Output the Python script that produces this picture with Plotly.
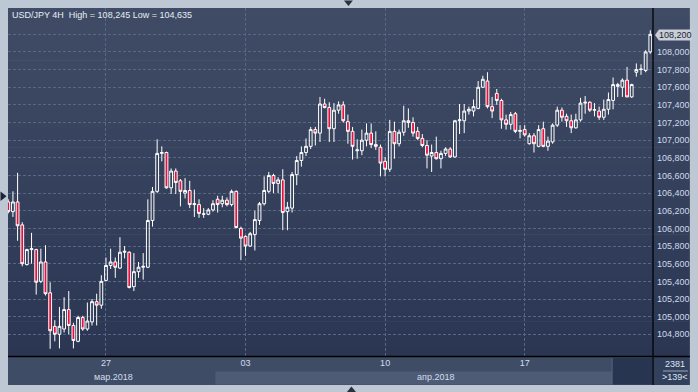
import plotly.graph_objects as go

# ---------------- data ----------------
opens = [106.30, 106.19, 106.30, 106.04, 105.59, 105.76, 105.76, 105.40, 105.62, 105.27,
         104.89, 104.80, 104.86, 105.08, 104.90, 104.72, 104.99, 104.86, 104.94, 105.17,
         105.13, 105.41, 105.58, 105.62, 105.55, 105.73, 105.73, 105.34, 105.51, 105.56,
         105.56, 106.09, 106.42, 106.85, 106.86, 106.46, 106.65, 106.54, 106.40, 106.43,
         106.27, 106.27, 106.16, 106.16, 106.21, 106.33, 106.28, 106.32, 106.27, 106.42,
         106.00, 105.91, 105.80, 105.93, 106.09, 106.28, 106.42, 106.60, 106.51, 106.55,
         106.19, 106.23, 106.61, 106.77, 106.86, 106.93, 107.12, 107.08, 107.41, 107.37,
         107.13, 107.34, 107.40, 107.21, 107.10, 106.88, 106.88, 107.00, 107.08, 106.95,
         106.92, 106.76, 106.67, 107.10, 106.96, 107.09, 107.22, 107.20, 107.10, 107.02,
         106.94, 106.82, 106.86, 106.79, 106.85, 106.90, 106.81, 107.22, 107.22, 107.33,
         107.33, 107.36, 107.60, 107.67, 107.38, 107.53, 107.45, 107.23, 107.18, 107.30,
         107.10, 107.12, 106.96, 107.05, 106.93, 107.13, 106.93, 106.98, 107.17, 107.34,
         107.27, 107.22, 107.14, 107.23, 107.42, 107.43, 107.34, 107.33, 107.26, 107.35,
         107.45, 107.63, 107.60, 107.68, 107.49, 107.77, 107.80, 107.79, 108.00]
highs = [106.33, 106.42, 106.63, 106.07, 105.77, 105.95, 105.77, 105.77, 105.81, 105.39,
         104.96, 105.11, 105.22, 105.29, 104.93, 105.01, 105.01, 105.16, 105.20, 105.26,
         105.47, 105.67, 105.77, 105.67, 105.90, 105.80, 105.74, 105.72, 105.62, 105.72,
         106.33, 106.47, 107.01, 106.93, 106.87, 106.68, 106.68, 106.56, 106.57, 106.54,
         106.44, 106.33, 106.23, 106.23, 106.32, 106.37, 106.37, 106.35, 106.44, 106.43,
         106.02, 105.92, 105.96, 106.20, 106.30, 106.59, 106.64, 106.62, 106.58, 106.67,
         106.30, 106.64, 106.82, 106.93, 107.02, 107.15, 107.15, 107.49, 107.47, 107.43,
         107.42, 107.44, 107.44, 107.29, 107.15, 107.01, 107.12, 107.19, 107.19, 107.10,
         106.95, 106.81, 107.23, 107.21, 107.12, 107.39, 107.36, 107.26, 107.15, 107.07,
         107.00, 106.95, 107.04, 106.88, 106.92, 106.92, 107.23, 107.41, 107.41, 107.38,
         107.46, 107.67, 107.73, 107.77, 107.49, 107.58, 107.47, 107.29, 107.32, 107.32,
         107.17, 107.17, 107.08, 107.08, 107.17, 107.21, 107.04, 107.19, 107.38, 107.37,
         107.30, 107.29, 107.30, 107.48, 107.50, 107.44, 107.42, 107.38, 107.46, 107.54,
         107.71, 107.65, 107.70, 107.83, 107.64, 107.87, 107.86, 108.02, 108.245]
lows = [106.17, 106.13, 105.86, 105.57, 105.58, 105.60, 105.25, 105.38, 105.24, 104.635,
        104.72, 104.64, 104.82, 104.80, 104.64, 104.71, 104.84, 104.84, 104.90, 104.90,
        105.09, 105.40, 105.54, 105.44, 105.54, 105.66, 105.32, 105.29, 105.44, 105.42,
        105.55, 106.02, 106.40, 106.76, 106.45, 106.39, 106.39, 106.25, 106.34, 106.23,
        106.13, 106.12, 106.12, 106.15, 106.19, 106.18, 106.24, 106.25, 106.25, 106.00,
        105.64, 105.69, 105.79, 105.75, 106.04, 106.26, 106.40, 106.40, 106.40, 105.98,
        105.98, 106.18, 106.49, 106.70, 106.82, 106.90, 106.94, 106.98, 107.36, 106.98,
        106.98, 107.30, 107.20, 106.96, 106.78, 106.79, 106.83, 106.93, 106.91, 106.89,
        106.59, 106.59, 106.64, 106.79, 106.93, 107.05, 107.14, 107.04, 107.00, 106.92,
        106.68, 106.64, 106.78, 106.68, 106.82, 106.80, 106.80, 107.07, 107.08, 107.29,
        107.27, 107.35, 107.59, 107.36, 107.25, 107.40, 107.13, 107.12, 107.12, 107.08,
        107.02, 107.04, 106.95, 106.86, 106.92, 106.92, 106.88, 106.96, 107.15, 107.21,
        107.15, 107.08, 107.13, 107.21, 107.30, 107.32, 107.27, 107.23, 107.23, 107.29,
        107.35, 107.49, 107.49, 107.49, 107.48, 107.72, 107.74, 107.77, 107.98]
closes = [106.19, 106.30, 106.03, 105.60, 105.76, 105.77, 105.39, 105.62, 105.26, 104.84,
          104.80, 104.89, 105.08, 104.90, 104.73, 104.99, 104.86, 104.95, 105.17, 105.13,
          105.40, 105.58, 105.62, 105.56, 105.73, 105.74, 105.33, 105.51, 105.56, 105.57,
          106.09, 106.42, 106.85, 106.86, 106.46, 106.65, 106.52, 106.42, 106.43, 106.27,
          106.28, 106.17, 106.165, 106.21, 106.28, 106.27, 106.32, 106.27, 106.42, 106.01,
          105.89, 105.80, 105.94, 106.10, 106.28, 106.43, 106.60, 106.51, 106.55, 106.18,
          106.24, 106.61, 106.77, 106.86, 106.93, 107.12, 107.08, 107.41, 107.37, 107.13,
          107.34, 107.40, 107.22, 107.10, 106.93, 106.89, 107.00, 107.08, 106.95, 106.93,
          106.74, 106.67, 107.10, 106.96, 107.09, 107.22, 107.20, 107.08, 107.02, 106.94,
          106.83, 106.86, 106.79, 106.85, 106.90, 106.81, 107.22, 107.23, 107.33, 107.35,
          107.38, 107.60, 107.69, 107.38, 107.33, 107.45, 107.23, 107.18, 107.29, 107.10,
          107.11, 107.06, 107.05, 106.96, 107.12, 106.93, 106.99, 107.17, 107.34, 107.26,
          107.22, 107.14, 107.23, 107.42, 107.43, 107.34, 107.345, 107.26, 107.35, 107.46,
          107.63, 107.61, 107.68, 107.49, 107.63, 107.80, 107.805, 108.00, 108.20]
bar_index = list(range(len(opens)))

x_tick_vals = [21, 51, 81, 111]
x_tick_text = ["27", "03", "10", "17"]
month_text = ["мар.2018", "апр.2018"]
y_tick_vals = [104.8, 105.0, 105.2, 105.4, 105.6, 105.8, 106.0, 106.2, 106.4,
               106.6, 106.8, 107.0, 107.2, 107.4, 107.6, 107.8, 108.0, 108.2]
y_tick_text = ["104,800", "105,000", "105,200", "105,400", "105,600", "105,800",
               "106,000", "106,200", "106,400", "106,600", "106,800", "107,000",
               "107,200", "107,400", "107,600", "107,800", "108,000", ""]
title_text = "USD/JPY 4H  High = 108,245 Low = 104,635"
last_price_text = "108,200"
bars_total_text = "2381"
bars_visible_text = ">139<"

# ---------------- geometry helpers ----------------
W, H = 698, 392
PL, PR, PT, PB = 8, 655, 8, 356


def px(x):
    return (x - PL) / (PR - PL)


def py(y):
    return (PB - y) / (PB - PT)


FONT = "Liberation Sans, Arial, sans-serif"
shapes = []


def rect(x0, y0, x1, y1, color, layer="below"):
    shapes.append(dict(type="rect", xref="paper", yref="paper",
                       x0=px(x0), x1=px(x1), y0=py(y1), y1=py(y0),
                       fillcolor=color, line=dict(width=0), layer=layer))


def line(x0, y0, x1, y1, color, w=1, layer="above"):
    shapes.append(dict(type="line", xref="paper", yref="paper",
                       x0=px(x0), x1=px(x1), y0=py(y0), y1=py(y1),
                       line=dict(color=color, width=w), layer=layer))


def poly(pts, color, layer="above"):
    d = "M " + " L ".join(f"{px(a):.5f},{py(b):.5f}" for a, b in pts) + " Z"
    shapes.append(dict(type="path", xref="paper", yref="paper", path=d,
                       fillcolor=color, line=dict(width=0), layer=layer))


# gradient background of chart + price panel
top = (64, 76, 102)
bot = (43, 55, 82)
n = 40
for i in range(n):
    t = i / (n - 1)
    c = tuple(round(top[k] + (bot[k] - top[k]) * t) for k in range(3))
    y0 = PT + i * (PB - PT) / n
    y1 = PT + (i + 1) * (PB - PT) / n + 0.6
    rect(8, y0, 692, y1, "rgb(%d,%d,%d)" % c)

# time axis band
rect(8, PB, 655, 385, "#3e4c66")
month_split = 8.3 + 4.6667 * 44.5
rect(month_split, 371.5, 614, 384.5, "#4d5b75")
rect(614, 358, 654, 384.5, "#283550")
line(614, 358, 614, 384.5, "#56647c", 1)
rect(655, PB, 692, 385, "#33405b")
line(665, 371, 690, 371, "#9aa6ba", 1)

# black separators
line(655, 8, 655, 385, "#000000", 1.3)
line(8, 356.5, 692, 356.5, "#000000", 1.3)

# UI triangles
poly([(345, 0.5), (354, 0.5), (349.5, 6)], "#28303f")
poly([(348, 392), (357, 392), (352.5, 386.5)], "#28303f")
poly([(0.5, 191.5), (0.5, 201), (6.5, 196.2)], "#1e2433")

# last price marker
poly([(657, 35), (661, 29.5), (694, 29.5), (694, 40.5), (661, 40.5)], "#c9ced8", layer="above")

fig = go.Figure()
fig.add_trace(go.Candlestick(
    x=bar_index, open=opens, high=highs, low=lows, close=closes,
    increasing=dict(line=dict(color="#ffffff", width=1), fillcolor="rgba(0,0,0,0)"),
    decreasing=dict(line=dict(color="#ffffff", width=1), fillcolor="#e8103c"),
    whiskerwidth=0, showlegend=False, hoverinfo="skip",
))

annotations = [
    dict(text=title_text, xref="paper", yref="paper", x=px(10), y=py(15),
         xanchor="left", yanchor="middle", showarrow=False,
         font=dict(family=FONT, size=9, color="#e8edf6")),
    dict(text=last_price_text, xref="paper", yref="paper", x=px(677.5), y=py(35),
         xanchor="center", yanchor="middle", showarrow=False,
         font=dict(family=FONT, size=9, color="#1d2535")),
    dict(text=bars_total_text, xref="paper", yref="paper", x=px(677), y=py(364),
         xanchor="center", yanchor="middle", showarrow=False,
         font=dict(family=FONT, size=9, color="#dde5f2")),
    dict(text=bars_visible_text, xref="paper", yref="paper", x=px(677), y=py(377.5),
         xanchor="center", yanchor="middle", showarrow=False,
         font=dict(family=FONT, size=9, color="#dde5f2")),
]
month_px = [113.5, 436.5]
for txt, mx in zip(month_text, month_px):
    annotations.append(dict(text=txt, xref="paper", yref="paper", x=px(mx), y=py(377),
                            xanchor="center", yanchor="middle", showarrow=False,
                            font=dict(family=FONT, size=9, color="#d3dcec")))

GRID = "#56678a"
fig.update_layout(
    width=W, height=H, autosize=False,
    margin=dict(l=PL, r=W - PR, t=PT, b=H - PB, pad=0),
    paper_bgcolor="#bec8d5", plot_bgcolor="rgba(0,0,0,0)",
    shapes=shapes, annotations=annotations,
    showlegend=False,
    boxgap=0.4, boxgroupgap=0.0,
    xaxis=dict(range=[-0.06, 138.58], tickvals=x_tick_vals, ticktext=x_tick_text,
               showgrid=True, gridcolor=GRID, griddash="3px,2px", gridwidth=1,
               zeroline=False, showline=False, ticks="",
               tickfont=dict(family=FONT, size=9, color="#d3dcec"),
               rangeslider=dict(visible=False), fixedrange=True),
    yaxis=dict(range=[104.554, 108.498], side="right", tickvals=y_tick_vals,
               ticktext=y_tick_text, showgrid=True, gridcolor=GRID,
               griddash="3px,2px", gridwidth=1, zeroline=False, showline=False,
               ticks="", ticklabelstandoff=3,
               tickfont=dict(family=FONT, size=9, color="#cfd9ee"), fixedrange=True),
)

fig.write_html("out.html", config={"displayModeBar": False})
with open("out.html", "r", encoding="utf-8") as f:
    html = f.read()
html = html.replace("<head>", "<head><style>html,body{margin:0;padding:0;overflow:hidden;}</style>", 1)
with open("out.html", "w", encoding="utf-8") as f:
    f.write(html)
